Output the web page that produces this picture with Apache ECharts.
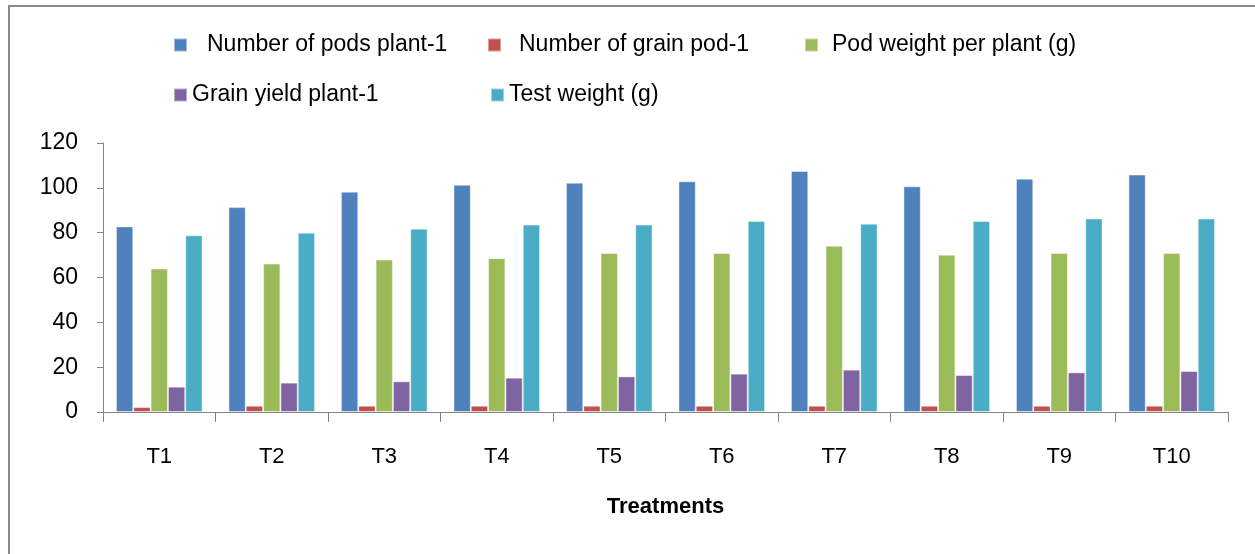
<!DOCTYPE html>
<html>
<head>
<meta charset="utf-8">
<script src="https://cdn.jsdelivr.net/npm/echarts@6/dist/echarts.min.js"></script>
<style>
html,body{margin:0;padding:0;background:#fff;}
#chart{width:1255px;height:554px;}
</style>
</head>
<body>
<div id="chart"></div>
<script>
const categories = ['T1','T2','T3','T4','T5','T6','T7','T8','T9','T10'];
const podsPerPlant = [82.8, 91.4, 98.3, 101.4, 102.3, 102.9, 107.5, 100.7, 104.1, 105.9];
const grainPerPod = [2.2, 2.8, 2.8, 2.8, 2.8, 2.8, 2.8, 2.8, 2.8, 2.8];
const podWeight = [64.0, 66.2, 68.0, 68.6, 70.9, 70.9, 74.2, 70.2, 70.9, 70.9];
const grainYield = [11.3, 13.1, 13.7, 15.3, 15.9, 17.1, 18.9, 16.5, 17.7, 18.3];
const testWeight = [78.8, 80.0, 81.8, 83.6, 83.6, 85.2, 84.0, 85.2, 86.3, 86.3];
const yTicks = [0, 20, 40, 60, 80, 100, 120];

const seriesNames = ['Number of pods plant-1','Number of grain pod-1','Pod weight per plant (g)','Grain yield plant-1','Test weight (g)'];
const seriesData = [podsPerPlant, grainPerPod, podWeight, grainYield, testWeight];
const colors = ['#4F81BD','#C0504D','#9BBB59','#8064A2','#4BACC6'];

const FONT = "'Liberation Sans', Arial, sans-serif";
const legendPos = [
  {left:173, top:32, pad:15},
  {left:487, top:32, pad:13},
  {left:804, top:32, pad:9},
  {left:173, top:82, pad:0},
  {left:490, top:82, pad:0}
];

const chart = echarts.init(document.getElementById('chart'));
chart.setOption({
  animation:false,
  backgroundColor:'#fff',
  color: colors,
  graphic:[{
    type:'polyline',
    shape:{points:[[9,560],[9,6],[1260,6]]},
    style:{stroke:'#8a8a8a', lineWidth:2, fill:null}
  }],
  legend: seriesNames.map((n,i)=>({
    data:[n],
    left:legendPos[i].left,
    top:legendPos[i].top,
    itemWidth:13,
    itemHeight:13,
    icon:'rect',
    padding:0,
    textStyle:{fontFamily:FONT, fontSize:23, color:'#000', padding:[0,0,0,legendPos[i].pad], lineHeight:26}
  })),
  grid:{left:103, right:27, top:143, bottom:142, containLabel:false},
  xAxis:{
    type:'category',
    data:categories,
    name:'Treatments',
    nameLocation:'middle',
    nameGap:84,
    nameTextStyle:{fontFamily:FONT, fontSize:22, fontWeight:'bold', color:'#000'},
    axisLine:{lineStyle:{color:'#868686', width:1}},
    axisTick:{show:true, length:10, lineStyle:{color:'#868686'}},
    axisLabel:{fontFamily:FONT, fontSize:22, color:'#000', margin:34},
    splitLine:{show:false}
  },
  yAxis:{
    type:'value',
    min:yTicks[0],
    max:yTicks[yTicks.length-1],
    interval:yTicks[1]-yTicks[0],
    axisLine:{show:true, lineStyle:{color:'#868686', width:1}},
    axisTick:{show:true, length:6, lineStyle:{color:'#868686'}},
    axisLabel:{fontFamily:FONT, fontSize:23, color:'#000', margin:25},
    splitLine:{show:false}
  },
  series: seriesNames.map((n,i)=>({
    name:n,
    type:'bar',
    data:seriesData[i],
    barGap:'0%',
    barCategoryGap:'23%',
    itemStyle:{color:colors[i], borderColor:'rgba(255,255,255,0.45)', borderWidth:1}
  }))
});
</script>
</body>
</html>
